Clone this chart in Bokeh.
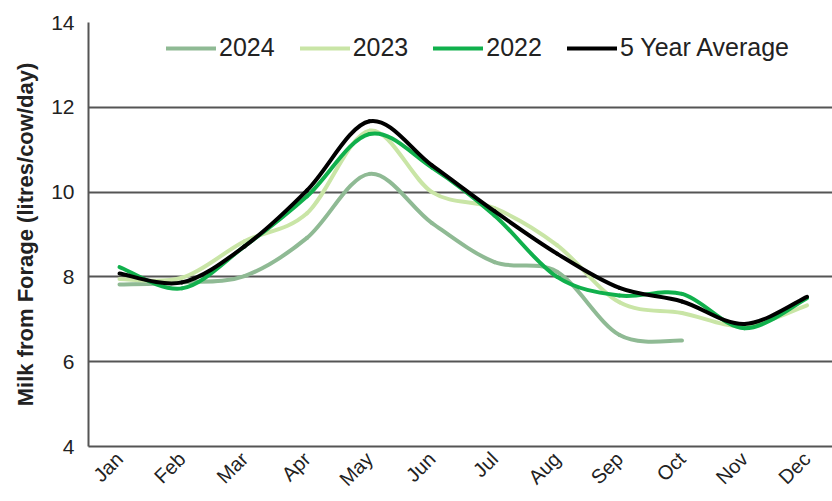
from math import pi
from bokeh.plotting import figure
from bokeh.models import Range1d, FixedTicker, Legend, LegendItem
from bokeh.embed import file_html
from bokeh.resources import INLINE

# ---- data ----
months = ["Jan", "Feb", "Mar", "Apr", "May", "Jun", "Jul", "Aug", "Sep", "Oct", "Nov", "Dec"]
y2024 = [7.82, 7.87, 8.02, 8.92, 10.43, 9.27, 8.35, 8.12, 6.63, 6.50]
y2023 = [7.95, 7.98, 8.84, 9.50, 11.45, 10.00, 9.62, 8.75, 7.40, 7.15, 6.84, 7.33]
y2022 = [8.23, 7.73, 8.72, 9.90, 11.37, 10.58, 9.45, 8.00, 7.56, 7.60, 6.79, 7.50]
avg5 = [8.08, 7.87, 8.72, 10.04, 11.67, 10.63, 9.55, 8.55, 7.74, 7.42, 6.89, 7.53]
y_ticks = [4, 6, 8, 10, 12, 14]

series = [
    ("2024", y2024, "#8fba94"),
    ("2023", y2023, "#c9e5a6"),
    ("2022", y2022, "#10b04c"),
    ("5 Year Average", avg5, "#000000"),
]


def smooth_segments(ys):
    """Control points for a smoothed (Catmull-Rom style) curve through the data."""
    xs = list(range(len(ys)))
    n = len(ys)
    out = dict(x0=[], y0=[], x1=[], y1=[], cx0=[], cy0=[], cx1=[], cy1=[])
    for i in range(n - 1):
        a = max(i - 1, 0)
        b = min(i + 2, n - 1)
        out["x0"].append(xs[i]); out["y0"].append(ys[i])
        out["x1"].append(xs[i + 1]); out["y1"].append(ys[i + 1])
        out["cx0"].append(xs[i] + (xs[i + 1] - xs[a]) / 6.0)
        out["cy0"].append(ys[i] + (ys[i + 1] - ys[a]) / 6.0)
        out["cx1"].append(xs[i + 1] - (xs[b] - xs[i]) / 6.0)
        out["cy1"].append(ys[i + 1] - (ys[b] - ys[i]) / 6.0)
    return out


p = figure(
    width=832, height=501,
    x_range=Range1d(-0.496, 11.408), y_range=Range1d(4, 14),
    output_backend="svg", toolbar_location=None,
    min_border_left=88, min_border_right=0, min_border_top=22, min_border_bottom=55,
)
p.outline_line_color = None
p.background_fill_color = "white"

items = []
for name, ys, color in series:
    seg = smooth_segments(ys)
    r = p.bezier(x0="x0", y0="y0", x1="x1", y1="y1", cx0="cx0", cy0="cy0",
                 cx1="cx1", cy1="cy1", source=seg, line_color=color, line_width=4,
                 line_cap="round")
    items.append(LegendItem(label=name, renderers=[r]))

legend = Legend(items=items, orientation="horizontal", location=(78, 384),
                glyph_width=50, glyph_height=24, label_standoff=3, spacing=25,
                padding=0, margin=0, background_fill_alpha=0, border_line_color=None,
                label_text_font="Liberation Sans", label_text_font_size="25px",
                label_text_color="#222222")
p.add_layout(legend, "center")

# axes
p.yaxis.ticker = FixedTicker(ticks=y_ticks)
p.yaxis.axis_label = "Milk from Forage (litres/cow/day)"
p.yaxis.axis_label_text_font = "Liberation Sans"
p.yaxis.axis_label_text_font_style = "bold"
p.yaxis.axis_label_text_font_size = "22px"
p.yaxis.axis_label_text_color = "#222222"
p.yaxis.axis_label_standoff = 10
p.yaxis.major_label_text_font = "Liberation Sans"
p.yaxis.major_label_text_font_size = "21px"
p.yaxis.major_label_text_color = "#222222"
p.yaxis.major_label_standoff = 8

p.xaxis.ticker = FixedTicker(ticks=list(range(len(months))))
p.xaxis.major_label_overrides = {i: m for i, m in enumerate(months)}
p.xaxis.major_label_orientation = pi / 4
p.xaxis.major_label_text_font = "Liberation Sans"
p.xaxis.major_label_text_font_size = "20px"
p.xaxis.major_label_text_color = "#222222"
p.xaxis.major_label_standoff = 3

for ax in (p.xaxis, p.yaxis):
    ax.axis_line_color = "#555555"
    ax.axis_line_width = 2
    ax.major_tick_line_color = None
    ax.minor_tick_line_color = None

p.xgrid.grid_line_color = None
p.ygrid.ticker = FixedTicker(ticks=y_ticks)
p.ygrid.grid_line_color = "#555555"
p.ygrid.grid_line_width = 2

open("out.html", "w").write(file_html(p, INLINE))
